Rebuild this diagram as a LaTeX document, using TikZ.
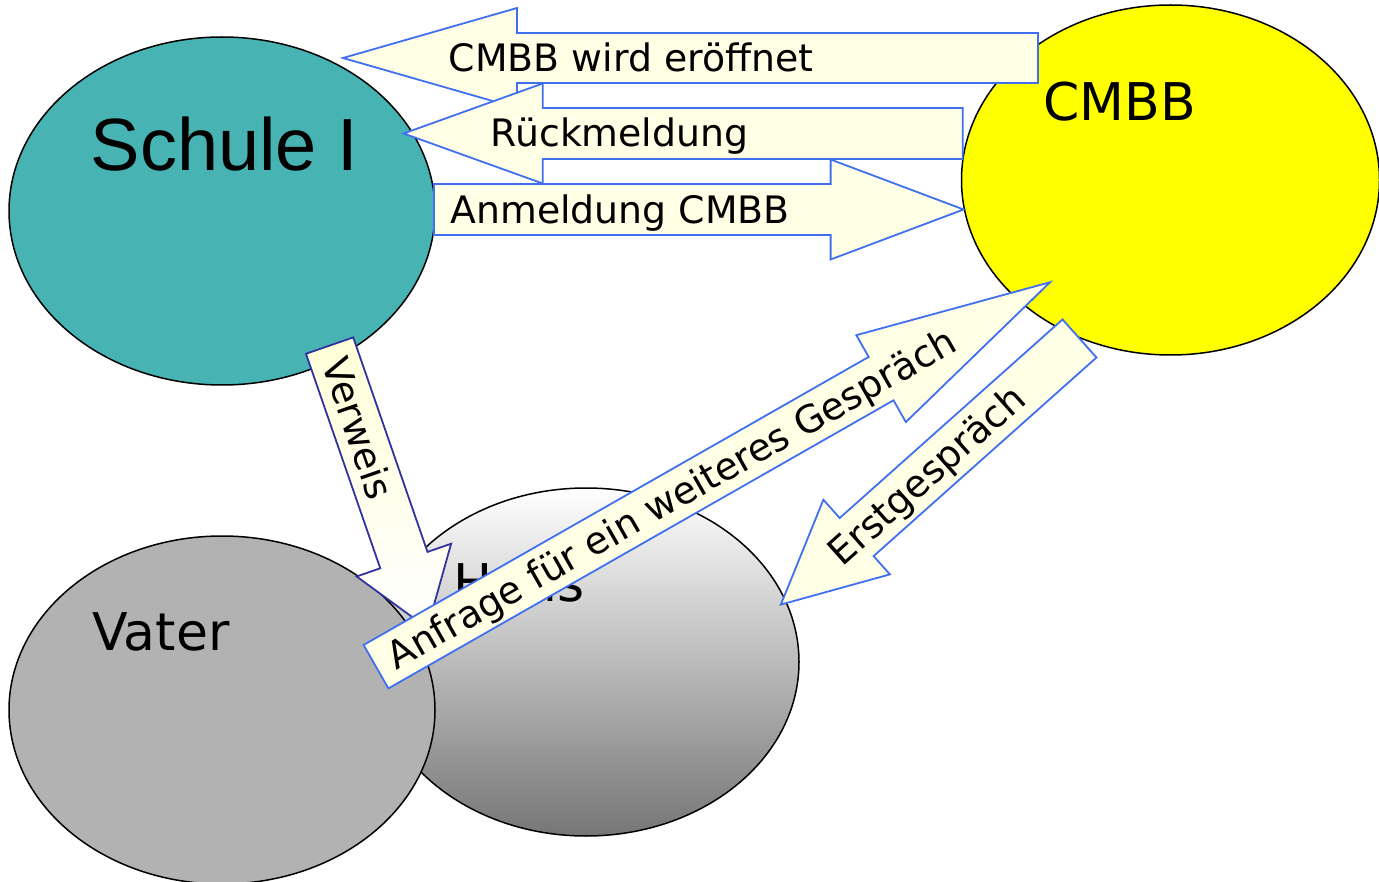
\documentclass[tikz,border=0pt]{standalone}
\usepackage{fontspec}
\newfontfamily\labelfont{DejaVu Sans}
\newfontfamily\titlefont{Liberation Sans}
\usetikzlibrary{shapes.geometric}

\definecolor{schulecol}{RGB}{71,179,179}
\definecolor{cmbbcol}{RGB}{255,255,0}
\definecolor{vatercol}{RGB}{178,178,178}
\definecolor{hausdark}{RGB}{118,118,118}
\definecolor{arrowfill}{RGB}{255,255,230}
\definecolor{reftop}{RGB}{255,255,215}
\definecolor{arrowblue}{RGB}{64,112,240}
\definecolor{refblue}{RGB}{51,51,160}

\tikzset{
  bubble/.style={ellipse, draw=black, line width=1.5pt, inner sep=0pt,
                 minimum width=426pt, minimum height=348pt},
  flow/.style={draw=arrowblue, line width=1.8pt, fill=arrowfill, line join=miter},
  flowlabel/.style={font=\labelfont\fontsize{37.8}{44}\selectfont, inner sep=0pt, anchor=base},
  bubblelabel/.style={font=\labelfont\fontsize{52}{60}\selectfont, inner sep=0pt, anchor=base west},
}

% block arrow: name, tail centre, angle, total length, head length, half shaft width, style
\newcommand\blockarrow[7]{%
  \begin{scope}[shift={#2}, rotate=#3]
    \draw[#7] (0,-#6) -- ({#4-#5},-#6) -- ({#4-#5},-50) -- (#4,0) coordinate (#1-tip)
      -- ({#4-#5},50) -- ({#4-#5},#6) -- (0,#6) -- cycle;
    \coordinate (#1-tail) at (0,0);
  \end{scope}}

\begin{document}
\begin{tikzpicture}[x=1pt, y=-1pt]
\useasboundingbox (0,0) rectangle (1379,882);

% the four parties
\node[bubble, top color=white, bottom color=hausdark] (haus) at (586,662) {};
\node[bubble, fill=vatercol] (vater) at (222,710) {};
\node[bubble, fill=schulecol] (schule) at (222,211) {};
\node[bubble, fill=cmbbcol, minimum width=418pt, minimum height=350pt] (cmbb) at (1170.5,180) {};

\node[anchor=base west, font=\titlefont\fontsize{74}{80}\selectfont, inner sep=0pt] (schuletxt) at (90.5,171) {Schule I};
\node[bubblelabel] (cmbbtxt) at (1043,121) {CMBB};
\node[bubblelabel] (haustxt) at (453,601) {Haus};
\node[bubblelabel] (vatertxt) at (92,650) {Vater};

% exchanges between school and CMBB
\blockarrow{open}{(1038,58)}{180}{695}{174}{25}{flow}
\blockarrow{back}{(962.7,133.5)}{180}{559}{139}{25.5}{flow}
\blockarrow{reg}{(434,209.5)}{0}{529.6}{133}{25.5}{flow}

% referral and talks with the family
\blockarrow{ref}{(329.6,345.6)}{-70.9}{299}{72}{25}{flow, draw=refblue, top color=reftop, bottom color=white}
\blockarrow{ask}{(376,666.7)}{29.7}{776}{194.5}{25}{flow}
\blockarrow{first}{(1079.5,338.5)}{221.7}{400}{101.5}{25.5}{flow}

\node[flowlabel] (openlbl) at (631,72) {CMBB wird eröffnet};
\node[flowlabel] (backlbl) at (619.5,147) {Rückmeldung};
\node[flowlabel] (reglbl) at (620,224) {Anmeldung CMBB};
\node[flowlabel, rotate=-70.9] (reflbl) at (345.4,432.7) {Verweis};
\node[flowlabel, rotate=29.7] (asklbl) at (678,510) {Anfrage für ein weiteres Gespräch};
\node[flowlabel, rotate=41.7] (firstlbl) at (935.4,484.9) {Erstgespräch};
\end{tikzpicture}
\end{document}
